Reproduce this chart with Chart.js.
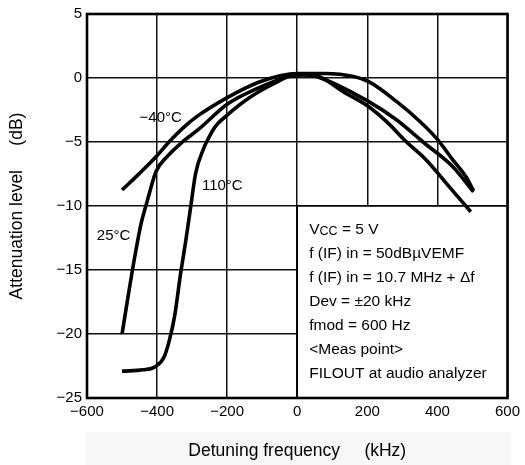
<!DOCTYPE html>
<html>
<head>
<meta charset="utf-8">
<script src="https://cdn.jsdelivr.net/npm/chart.js@4/dist/chart.umd.min.js"></script>
<style>
  html, body { margin: 0; padding: 0; background: #fff; }
  #wrap { width: 525px; height: 465px; }
</style>
</head>
<body>
<div id="wrap"><canvas id="chart" width="525" height="465"></canvas></div>
<script>
// axis ticks
const xTicks = [-600, -400, -200, 0, 200, 400, 600];
const yTicks = [-25, -20, -15, -10, -5, 0, 5];

// curves (kHz, dB)
const curveMinus40X = [-500, -450, -403, -366, -328, -286, -201, -112, -46, 0, 80, 160, 204, 284, 350, 400, 444, 481, 503];
const curveMinus40Y = [-8.75, -7.45, -6.15, -5.0, -3.95, -3.0, -1.55, -0.35, 0.2, 0.35, 0.35, 0.12, -0.29, -1.85, -3.4, -4.8, -6.4, -7.7, -8.8];

const curve25X = [-500, -480, -460, -445, -430, -422, -403, -370, -328, -281, -200, -112, -27, 20, 67, 204, 284, 359, 444, 503];
const curve25Y = [-20, -16.6, -13.4, -11.3, -9.8, -9.0, -7.3, -6.1, -5.0, -4.0, -2.05, -0.8, 0.1, 0.3, 0.0, -1.85, -3.28, -5.0, -6.93, -8.9];

const curve110X = [-500, -440, -405, -380, -365, -350, -333, -318, -304, -290, -267, -257, -234, -200, -140, -64, -8, 48, 133, 204, 255, 312, 368, 434, 495];
const curve110Y = [-22.9, -22.8, -22.55, -21.8, -20.5, -18.6, -15.3, -12.7, -10.05, -7.45, -5.5, -4.9, -3.8, -2.9, -1.6, -0.41, 0.23, 0.2, -1.1, -2.24, -3.41, -5.0, -6.4, -8.5, -10.45];

// text in the note box
const noteLines = ["VCC = 5 V", "f (IF) in = 50dBµVEMF", "f (IF) in = 10.7 MHz + Δf", "Dev = ±20 kHz", "fmod = 600 Hz", "<Meas point>", "FILOUT at audio analyzer"];

const curveLabels = [
  { text: "−40°C", x: -450, y: -3.1 },
  { text: "110°C", x: -272, y: -8.4 },
  { text: "25°C", x: -572, y: -12.3 }
];

const FONT = "'Liberation Sans', Arial, Helvetica, sans-serif";
const minus = v => String(v).replace("-", "−");
const toPoints = (xs, ys) => xs.map((x, i) => ({ x, y: ys[i] }));

const lineStyle = {
  borderColor: "#000",
  borderWidth: 3.6,
  pointRadius: 0,
  fill: false,
  cubicInterpolationMode: "monotone",
  borderCapStyle: "butt"
};

// white note box covering the lower right part of the grid
const notePlugin = {
  id: "noteBox",
  beforeDatasetsDraw(chart) {
    const { ctx, scales: { x, y } } = chart;
    const l = x.getPixelForValue(0), r = x.getPixelForValue(600);
    const t = y.getPixelForValue(-10), b = y.getPixelForValue(-25);
    ctx.save();
    ctx.fillStyle = "#fff";
    ctx.fillRect(l, t, r - l, b - t);
    ctx.strokeStyle = "#000";
    ctx.lineWidth = 1.6;
    ctx.beginPath();
    ctx.moveTo(l, b); ctx.lineTo(l, t); ctx.lineTo(r, t);
    ctx.stroke();

    ctx.fillStyle = "#000";
    ctx.textBaseline = "middle";
    ctx.textAlign = "left";
    const tx = l + 12;
    noteLines.forEach((s, i) => {
      const ty = 230 + i * 24;
      if (i === 0) {
        ctx.font = "15.5px " + FONT;
        ctx.fillText("V", tx, ty);
        const w = ctx.measureText("V").width;
        ctx.font = "12.5px " + FONT;
        ctx.fillText("CC", tx + w, ty + 2);
        const w2 = ctx.measureText("CC").width;
        ctx.font = "15.5px " + FONT;
        ctx.fillText(" = 5 V", tx + w + w2, ty);
      } else {
        ctx.font = "15.5px " + FONT;
        ctx.fillText(s, tx, ty);
      }
    });
    ctx.restore();
  },
  afterDatasetsDraw(chart) {
    const { ctx, chartArea: a, scales: { x, y } } = chart;
    ctx.save();
    ctx.fillStyle = "#000";
    ctx.font = "15px " + FONT;
    ctx.textBaseline = "middle";
    ctx.textAlign = "left";
    curveLabels.forEach(c => ctx.fillText(c.text, x.getPixelForValue(c.x), y.getPixelForValue(c.y)));
    ctx.strokeStyle = "#000";
    ctx.lineWidth = 2.6;
    ctx.strokeRect(a.left, a.top, a.right - a.left, a.bottom - a.top);
    ctx.restore();
  }
};

const bgPlugin = {
  id: "bg",
  beforeDraw(chart) {
    const { ctx } = chart;
    ctx.save();
    ctx.fillStyle = "#fff";
    ctx.fillRect(0, 0, chart.width, chart.height);
    ctx.fillStyle = "#f7f7f7";
    ctx.fillRect(85, 432, 426, 33);
    ctx.restore();
  }
};

new Chart(document.getElementById("chart"), {
  type: "line",
  data: {
    datasets: [
      { label: "-40°C", data: toPoints(curveMinus40X, curveMinus40Y), ...lineStyle },
      { label: "25°C", data: toPoints(curve25X, curve25Y), ...lineStyle },
      { label: "110°C", data: toPoints(curve110X, curve110Y), ...lineStyle }
    ]
  },
  options: {
    responsive: false,
    animation: false,
    layout: { padding: { top: 14, right: 13, left: 0, bottom: 0 } },
    plugins: { legend: { display: false }, tooltip: { enabled: false } },
    scales: {
      x: {
        type: "linear",
        min: -600, max: 600,
        afterBuildTicks: s => { s.ticks = xTicks.map(v => ({ value: v })); },
        afterFit: s => { s.height = 67; },
        grid: { color: "#111", lineWidth: 1.5, drawTicks: false },
        border: { display: false },
        ticks: { color: "#000", padding: 5, font: { family: FONT, size: 15 }, callback: v => minus(v), maxRotation: 0 },
        title: { display: true, text: "Detuning frequency     (kHz)", color: "#000", font: { family: FONT, size: 17.5 }, padding: { top: 0, bottom: 3 } }
      },
      y: {
        type: "linear",
        min: -25, max: 5,
        afterBuildTicks: s => { s.ticks = yTicks.map(v => ({ value: v })); },
        afterFit: s => { s.width = 87; },
        grid: { color: "#111", lineWidth: 1.5, drawTicks: false },
        border: { display: false },
        ticks: { color: "#000", padding: 5, font: { family: FONT, size: 15 }, callback: v => minus(v) },
        title: { display: true, text: "Attenuation level     (dB)", color: "#000", font: { family: FONT, size: 17.5 }, padding: { top: 7, bottom: 0 } }
      }
    }
  },
  plugins: [bgPlugin, notePlugin]
});
</script>
</body>
</html>
